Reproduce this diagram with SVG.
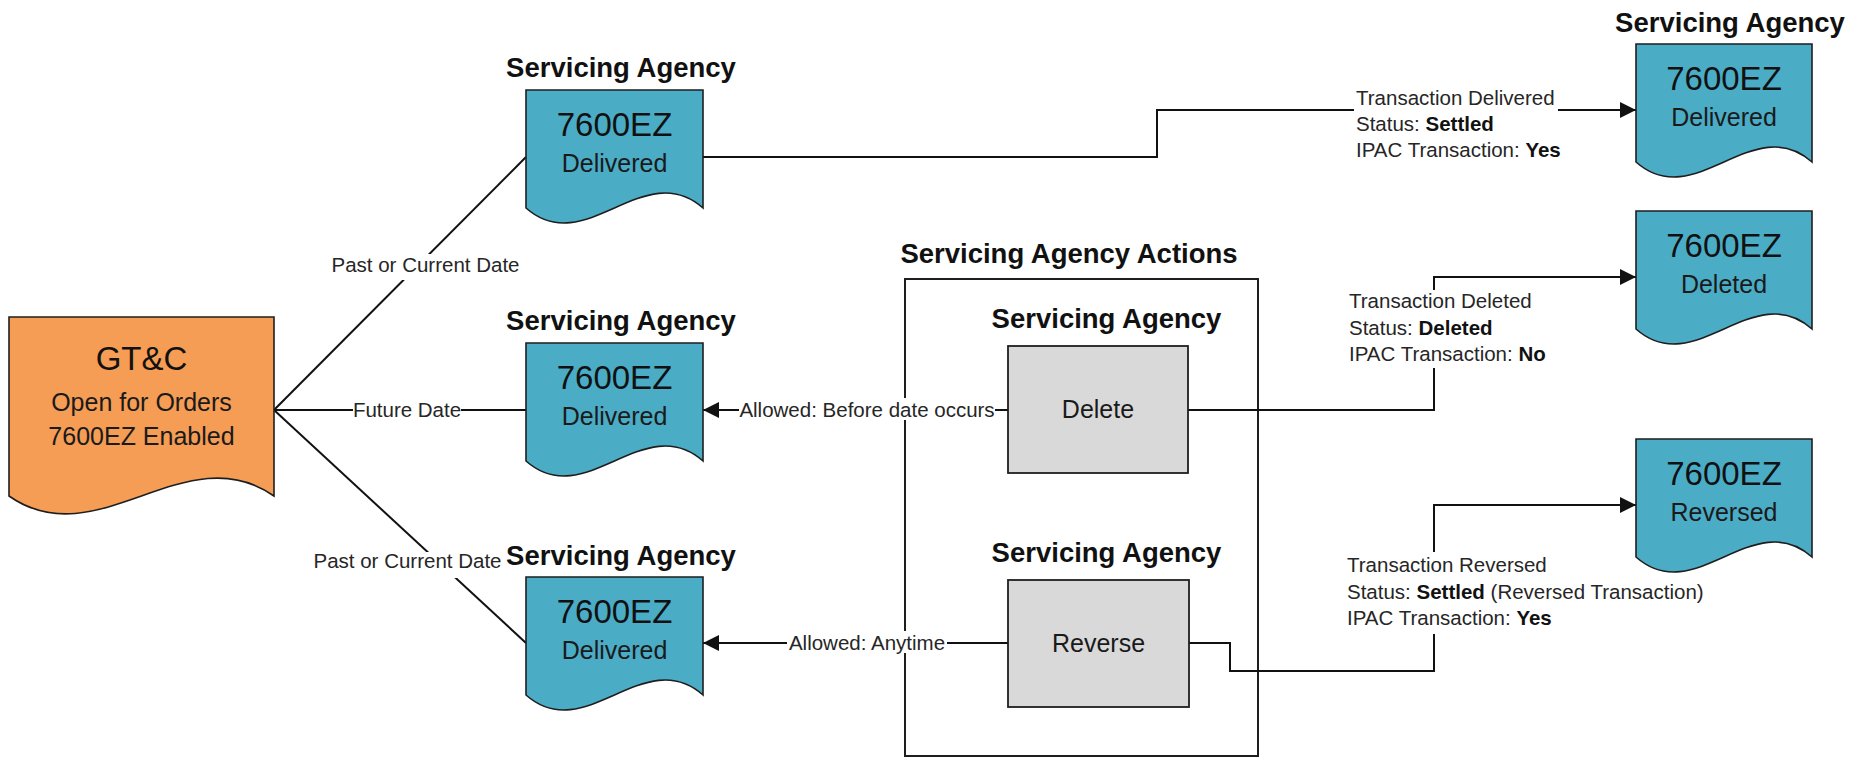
<svg xmlns="http://www.w3.org/2000/svg" width="1862" height="757" viewBox="0 0 1862 757">
  <defs>
    <style>
      .doc-teal { fill: #4BACC6; stroke: #1e1e1e; stroke-width: 1.6; }
      .doc-orange { fill: #F59C55; stroke: #1e1e1e; stroke-width: 1.6; }
      .action { fill: #D9D9D9; stroke: #1e1e1e; stroke-width: 1.8; }
      .frame { fill: none; stroke: #1e1e1e; stroke-width: 2; }
      .wire { fill: none; stroke: #111; stroke-width: 2; }
      .arrowed { marker-end: url(#arrow); }
      .bg { fill: #ffffff; }
      text { font-family: "Liberation Sans", Arial, sans-serif; }
      .title { font-size: 27.5px; font-weight: bold; fill: #111; text-anchor: middle; }
      .big { font-size: 33px; fill: #111; text-anchor: middle; }
      .sub { font-size: 25px; fill: #1a1a1a; text-anchor: middle; }
      .lbl { font-size: 20.5px; fill: #262626; }
      .mid { text-anchor: middle; }
      .b { font-weight: bold; fill: #111; }
    </style>
    <marker id="arrow" markerUnits="userSpaceOnUse" markerWidth="17" markerHeight="16" refX="16" refY="8" orient="auto">
      <path d="M0,0 L16,8 L0,16 Z" fill="#111"/>
    </marker>
  </defs>

  <!-- action container -->
  <g id="actions-frame">
    <rect class="frame" x="905" y="279" width="353" height="477"/>
    <text class="title" x="1069" y="263">Servicing Agency Actions</text>
  </g>

  <!-- connectors -->
  <g id="connectors">
    <path class="wire" d="M274,410 L526,157"/>
    <path class="wire" d="M274,410 L526,410"/>
    <path class="wire" d="M274,410 L526,643"/>
    <path class="wire arrowed" d="M703,157 H1157 V110 H1636"/>
    <path class="wire arrowed" d="M1008,410 H703"/>
    <path class="wire arrowed" d="M1008,643 H703"/>
    <path class="wire arrowed" d="M1188,410 H1434 V277 H1636"/>
    <path class="wire arrowed" d="M1189,643 H1230 V671 H1434 V505 H1636"/>

    <!-- connector labels -->
    <g class="lbl">
      <rect class="bg" x="331" y="254" width="190" height="26"/>
      <text class="mid" x="425.5" y="272">Past or Current Date</text>

      <rect class="bg" x="353" y="398" width="108" height="22"/>
      <text class="mid" x="407" y="417">Future Date</text>

      <rect class="bg" x="313" y="552" width="190" height="26"/>
      <text class="mid" x="407.5" y="568">Past or Current Date</text>

      <rect class="bg" x="739" y="398" width="256" height="22"/>
      <text class="mid" x="867" y="417">Allowed: Before date occurs</text>

      <rect class="bg" x="787" y="631" width="160" height="22"/>
      <text class="mid" x="867" y="650">Allowed: Anytime</text>

      <rect class="bg" x="1354" y="87" width="204" height="78"/>
      <text x="1356" y="105">Transaction Delivered</text>
      <text x="1356" y="131">Status: <tspan class="b">Settled</tspan></text>
      <text x="1356" y="157">IPAC Transaction: <tspan class="b">Yes</tspan></text>

      <rect class="bg" x="1347" y="290" width="214" height="78"/>
      <text x="1349" y="308">Transaction Deleted</text>
      <text x="1349" y="334.5">Status: <tspan class="b">Deleted</tspan></text>
      <text x="1349" y="361">IPAC Transaction: <tspan class="b">No</tspan></text>

      <rect class="bg" x="1345" y="552" width="352" height="82"/>
      <text x="1347" y="572">Transaction Reversed</text>
      <text x="1347" y="598.5">Status: <tspan class="b">Settled</tspan> (Reversed Transaction)</text>
      <text x="1347" y="625">IPAC Transaction: <tspan class="b">Yes</tspan></text>
    </g>
  </g>

  <!-- source document -->
  <g id="gtc">
    <path class="doc-orange" d="M9,317 H274 V496 C185.7,434 97.3,558 9,496 Z"/>
    <text class="big" x="141.5" y="370">GT&amp;C</text>
    <text class="sub" x="141.5" y="411">Open for Orders</text>
    <text class="sub" x="141.5" y="445">7600EZ Enabled</text>
  </g>

  <!-- servicing agency documents, left column -->
  <g id="sa-delivered-past">
    <text class="title" x="621" y="77">Servicing Agency</text>
    <path class="doc-teal" d="M526,90 H703 V208 C644,156 585,260 526,208 Z"/>
    <text class="big" x="614.5" y="136">7600EZ</text>
    <text class="sub" x="614.5" y="172">Delivered</text>
  </g>

  <g id="sa-delivered-future">
    <text class="title" x="621" y="330">Servicing Agency</text>
    <path class="doc-teal" d="M526,343 H703 V461 C644,409 585,513 526,461 Z"/>
    <text class="big" x="614.5" y="389">7600EZ</text>
    <text class="sub" x="614.5" y="425">Delivered</text>
  </g>

  <g id="sa-delivered-current">
    <text class="title" x="621" y="565">Servicing Agency</text>
    <path class="doc-teal" d="M526,577 H703 V695 C644,643 585,747 526,695 Z"/>
    <text class="big" x="614.5" y="623">7600EZ</text>
    <text class="sub" x="614.5" y="659">Delivered</text>
  </g>

  <!-- actions -->
  <g id="action-delete">
    <text class="title" x="1106.5" y="328">Servicing Agency</text>
    <rect class="action" x="1008" y="346" width="180" height="127"/>
    <text class="sub" x="1098" y="418">Delete</text>
  </g>

  <g id="action-reverse">
    <text class="title" x="1106.5" y="562">Servicing Agency</text>
    <rect class="action" x="1008" y="580" width="181" height="127"/>
    <text class="sub" x="1098.5" y="652">Reverse</text>
  </g>

  <!-- resulting documents, right column -->
  <g id="result-delivered">
    <text class="title" x="1730" y="32">Servicing Agency</text>
    <path class="doc-teal" d="M1636,44 H1812 V162 C1753.3,110 1694.7,214 1636,162 Z"/>
    <text class="big" x="1724" y="90">7600EZ</text>
    <text class="sub" x="1724" y="126">Delivered</text>
  </g>

  <g id="result-deleted">
    <path class="doc-teal" d="M1636,211 H1812 V329 C1753.3,277 1694.7,381 1636,329 Z"/>
    <text class="big" x="1724" y="257">7600EZ</text>
    <text class="sub" x="1724" y="293">Deleted</text>
  </g>

  <g id="result-reversed">
    <path class="doc-teal" d="M1636,439 H1812 V557 C1753.3,505 1694.7,609 1636,557 Z"/>
    <text class="big" x="1724" y="485">7600EZ</text>
    <text class="sub" x="1724" y="521">Reversed</text>
  </g>
</svg>
